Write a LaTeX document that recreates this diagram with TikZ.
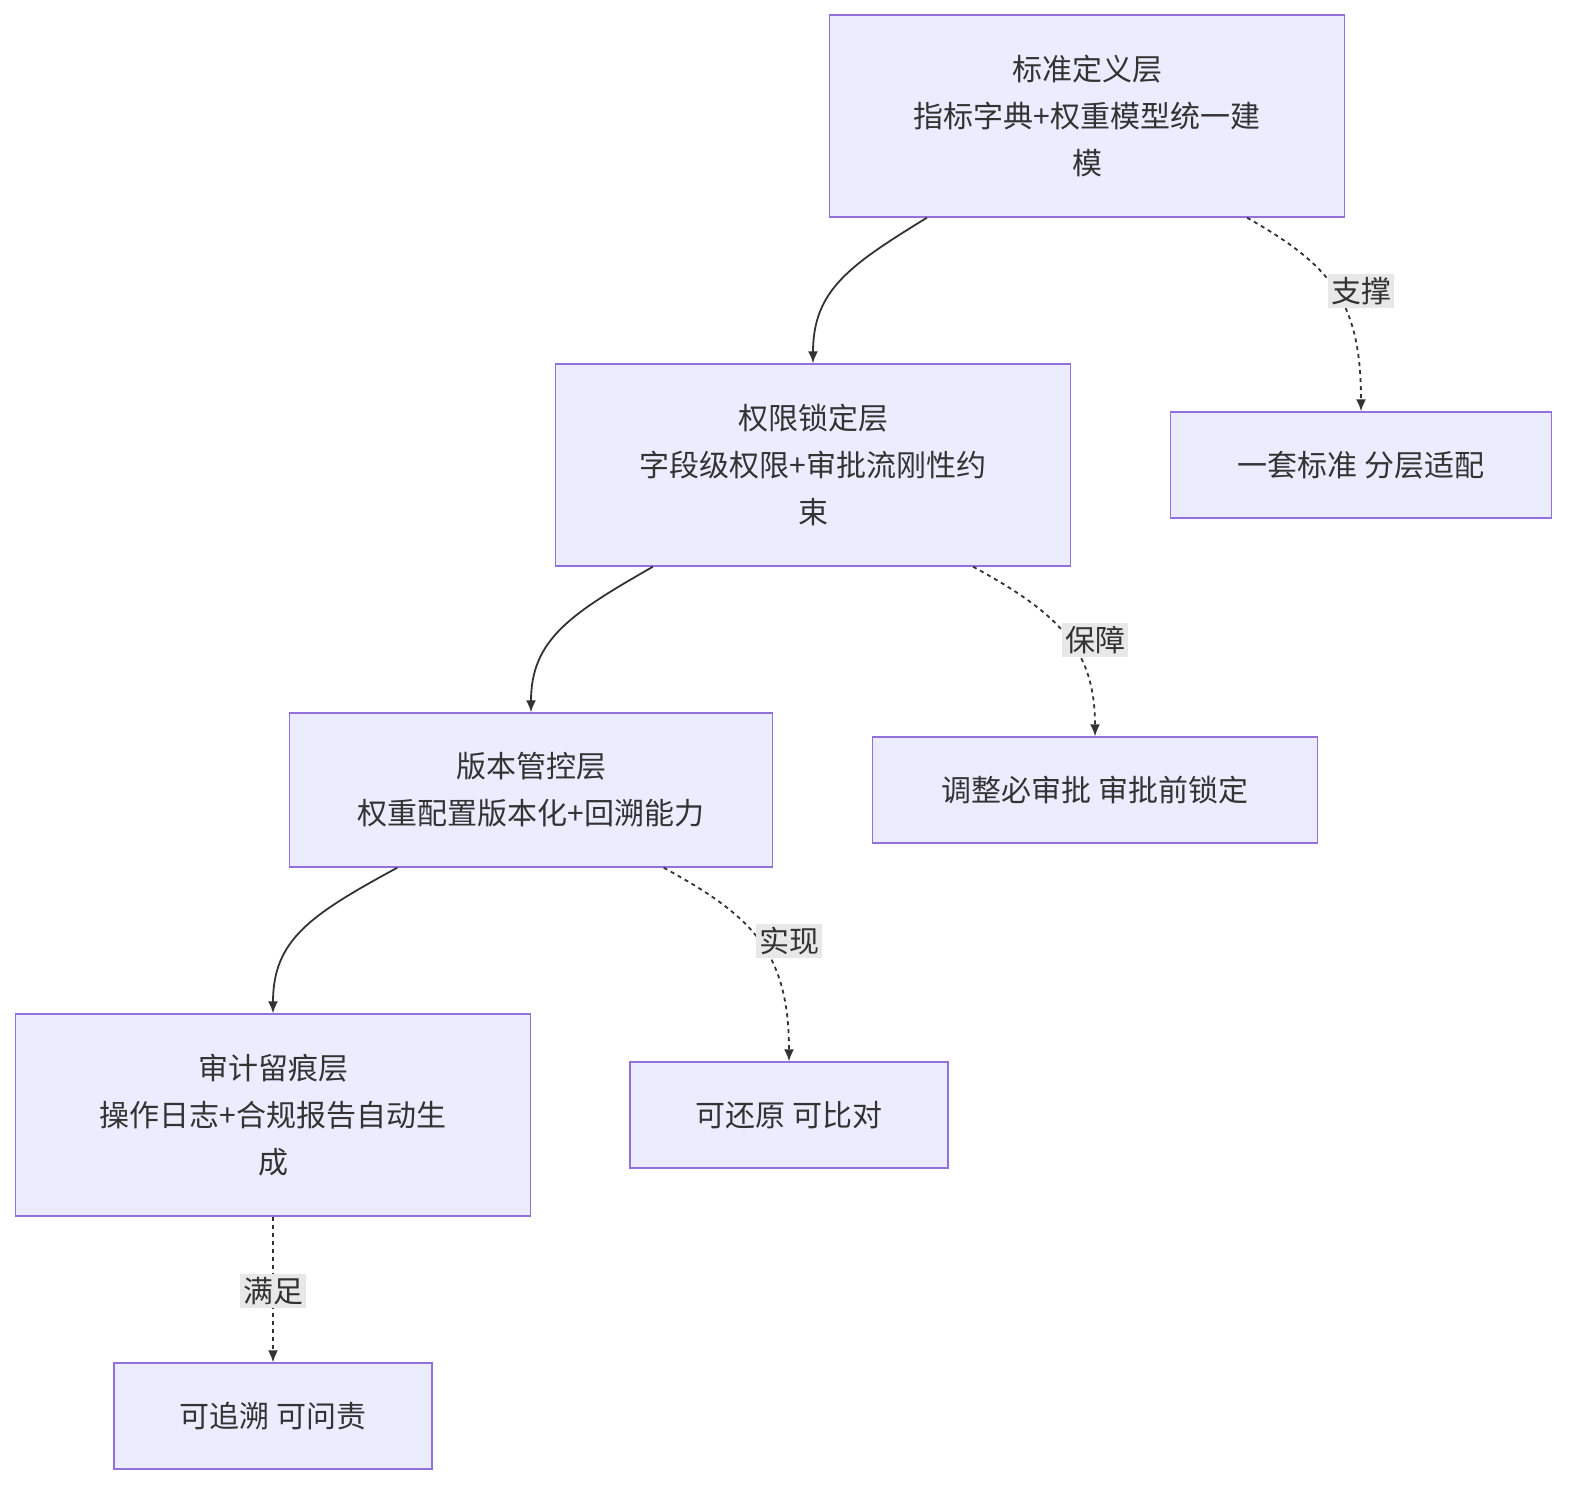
\documentclass[tikz,border=0pt]{standalone}
\usepackage{fontspec}
\setmainfont{Noto Sans CJK SC}
\usetikzlibrary{calc,arrows.meta}
\definecolor{boxfill}{HTML}{ECECFF}
\definecolor{boxline}{HTML}{9370DB}
\definecolor{edge}{HTML}{333333}
\definecolor{lblbg}{HTML}{E8E8E8}
\tikzset{
  layer/.style={draw=boxline, fill=boxfill, line width=0.7pt, align=center,
    minimum width=257.5pt, minimum height=101pt, inner sep=0pt,
    font=\fontsize{15}{23.5}\selectfont, text=edge},
  result/.style={layer, minimum width=#1, minimum height=53pt},
  flow/.style={draw=edge, line width=0.9pt, -{Latex[length=6pt,width=5pt]}},
  hint/.style={flow, dash pattern=on 2pt off 2pt},
  tag/.style={fill=lblbg, inner sep=1.5pt, font=\fontsize{15}{18}\selectfont, text=edge}
}
\begin{document}
\begin{tikzpicture}[x=0.5pt,y=-0.5pt]
\useasboundingbox (0,0) rectangle (1582,1500);
% layers
\node[layer] (std) at (1087,116) {标准定义层\\指标字典+权重模型统一建\\模};
\node[layer] (perm) at (813,465) {权限锁定层\\字段级权限+审批流刚性约\\束};
\node[layer, minimum width=241.5pt, minimum height=77pt] (ver) at (531,790) {版本管控层\\权重配置版本化+回溯能力};
\node[layer] (aud) at (273,1115) {审计留痕层\\操作日志+合规报告自动生\\成};
% outcomes
\node[result=190.5pt] (fit) at (1361,465) {一套标准 分层适配};
\node[result=222.5pt] (lock) at (1095,790) {调整必审批 审批前锁定};
\node[result=159pt] (undo) at (789,1115) {可还原 可比对};
\node[result=159pt] (trace) at (273,1416) {可追溯 可问责};
% main chain
\draw[flow] ($(std.south west)!0.19!(std.south east)$) .. controls (850,265) and (813,290) .. (perm.north);
\draw[flow] ($(perm.south west)!0.19!(perm.south east)$) .. controls (570,614) and (531,640) .. (ver.north);
\draw[flow] ($(ver.south west)!0.224!(ver.south east)$) .. controls (310,915) and (273,940) .. (aud.north);
% side effects
\draw[hint] ($(std.south west)!0.81!(std.south east)$) .. controls (1330,265) and (1361,300) .. (fit.north);
\draw[hint] ($(perm.south west)!0.81!(perm.south east)$) .. controls (1060,614) and (1095,650) .. (lock.north);
\draw[hint] ($(ver.south west)!0.774!(ver.south east)$) .. controls (750,915) and (789,950) .. (undo.north);
\draw[hint] (aud.south) -- (trace.north);
\node[tag] at (1361,291) {支撑};
\node[tag] at (1095,640) {保障};
\node[tag] at (789,941) {实现};
\node[tag] at (273,1291) {满足};
\end{tikzpicture}
\end{document}
